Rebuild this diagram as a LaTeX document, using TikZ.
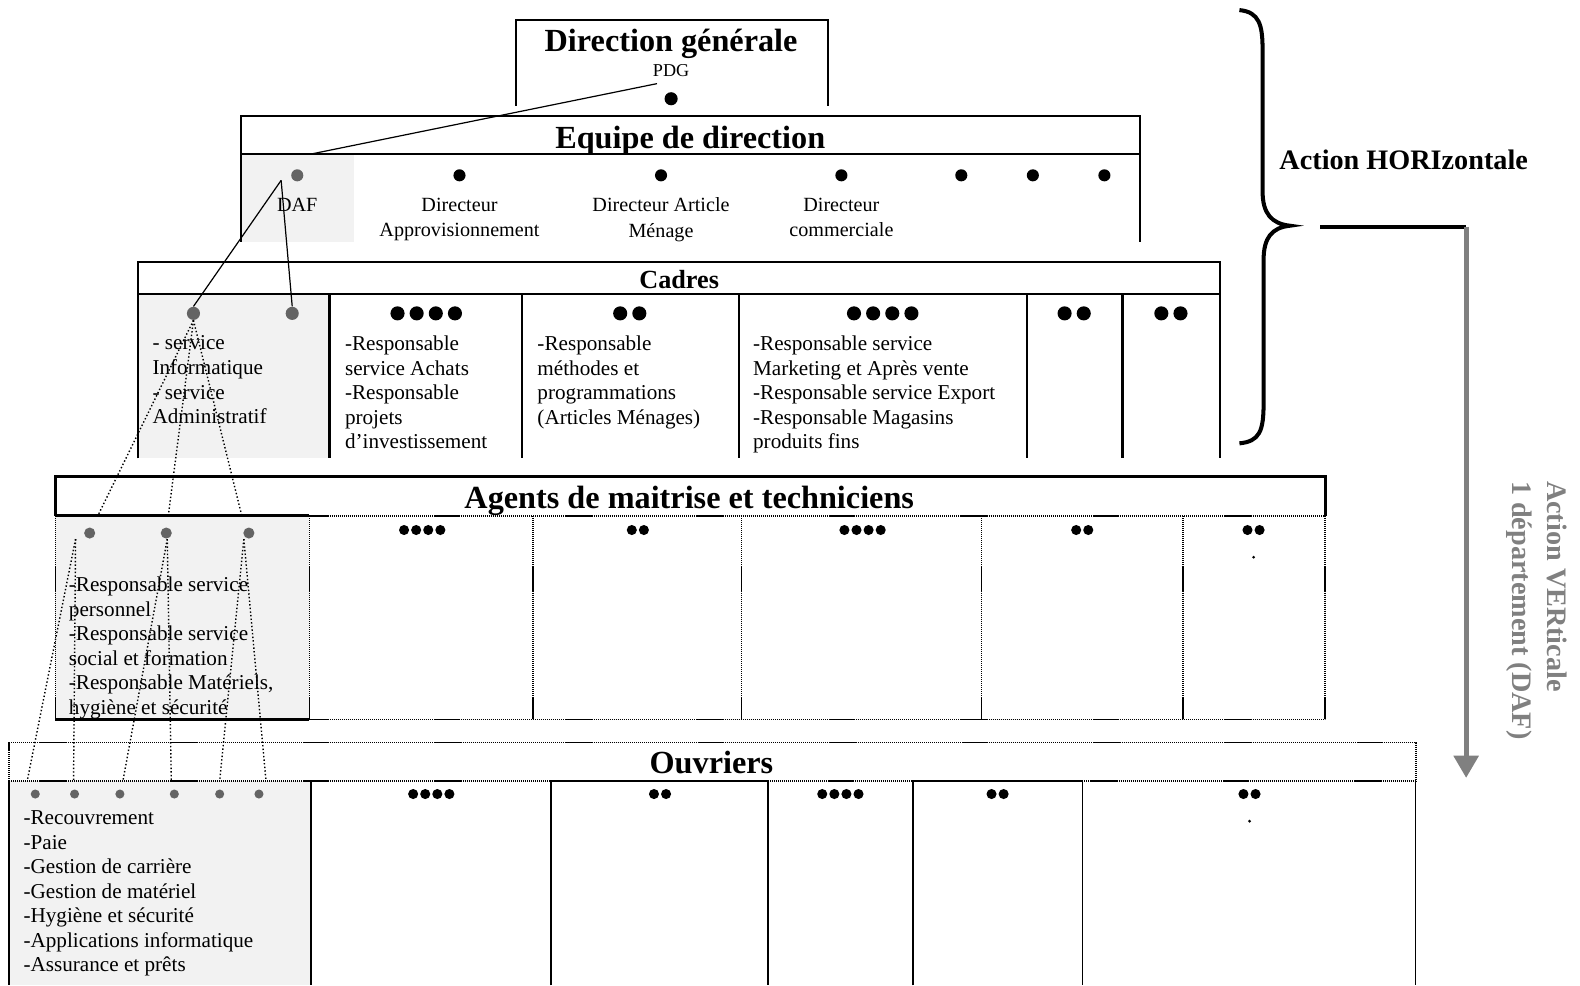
\documentclass[tikz,border=0pt]{standalone}
\usepackage{fontspec}
\setmainfont{Liberation Serif}
\usetikzlibrary{arrows.meta}
\definecolor{cellgrey}{RGB}{242,242,242}
\definecolor{dotgrey}{RGB}{100,100,100}
\definecolor{arrowgrey}{RGB}{128,128,128}
\tikzset{
  leveltitle/.style={font=\bfseries\fontsize{16}{18}\selectfont, inner sep=0pt},
  celltext/.style={font=\fontsize{10.5}{12.2}\selectfont, align=left, anchor=north west, inner sep=0pt},
  dirlabel/.style={font=\fontsize{10}{12.5}\selectfont, align=center, anchor=north, inner sep=0pt},
  blackdot/.style={circle, fill=black, inner sep=0pt, minimum size=#1},
  greydot/.style={circle, fill=dotgrey, inner sep=0pt, minimum size=#1},
  boxline/.style={line width=1.1pt},
  thinline/.style={line width=0.7pt},
  dotframe/.style={line width=0.8pt, dash pattern=on 0.6pt off 0.4pt},
  link/.style={line width=0.6pt},
  dotlink/.style={line width=0.7pt, dash pattern=on 0.7pt off 1.1pt},
}
\begin{document}
\begin{tikzpicture}[x=0.5pt,y=-0.5pt]
        \useasboundingbox (0,0) rectangle (1568,978);
        % shaded DAF column
        \fill[cellgrey] (239,153) rectangle (351,240);
        \fill[cellgrey] (137,292) rectangle (327,455);
        \fill[cellgrey] (55,512) rectangle (307,714);
        \fill[cellgrey] (9,775) rectangle (309,978);
        % Direction generale
        \draw[boxline] (512,105) -- (512,20) -- (822,20) -- (822,105);
        \node[leveltitle] (dg) at (666,44) {Direction générale};
        \node[font=\fontsize{9}{10}\selectfont, inner sep=0pt] (pdg) at (666,70) {PDG};
        \node[blackdot=6.5pt] (pdgdot) at (666,98) {};
        % Equipe de direction
        \draw[boxline] (239,240) -- (239,115) -- (1131,115) -- (1131,240);
        \draw[boxline] (239,153) -- (1131,153);
        \node[leveltitle] (ed) at (685,140) {Equipe de direction};
        \node[greydot=6pt] (daf) at (295,174) {};
        \foreach \x/\nm in {456/dappro,656/dmen,835/dcom,954/dx1,1025/dx2,1096/dx3}
            \node[blackdot=6pt] (\nm) at (\x,174) {};
        \node[dirlabel] (daflab) at (295,196) {DAF};
        \node[dirlabel] (approlab) at (456,196) {Directeur\\Approvisionnement};
        \node[dirlabel] (menlab) at (656,196) {Directeur Article\\Ménage};
        \node[dirlabel] (comlab) at (835,196) {Directeur\\commerciale};
        % Cadres
        \draw[boxline] (137,455) -- (137,260) -- (1211,260) -- (1211,455);
        \draw[boxline] (137,292) -- (1211,292);
        \foreach \x in {327,518,733,1019,1114}
            \draw[boxline] (\x,292) -- (\x,455);
        \node[font=\bfseries\fontsize{13}{15}\selectfont, inner sep=0pt] (cadres) at (674,277) {Cadres};
        \node[greydot=6.5pt] (ca1) at (192,311) {};
        \node[greydot=6.5pt] (ca2) at (290,311) {};
        \foreach \cx/\n/\nm in {423/4/cb,625/2/cc,876/4/cd,1066/2/ce,1162/2/cf}
            {\foreach \i in {1,...,\n}
                \node[blackdot=7pt] (\nm\i) at ({\cx+(\i-(\n+1)/2)*19},311) {};}
        \node[celltext] (catxt1) at (151,333) {- service\\Informatique\\- service\\Administratif};
        \node[celltext] (catxt2) at (342,333) {-Responsable\\service Achats\\-Responsable\\projets\\d’investissement};
        \node[celltext] (catxt3) at (533,333) {-Responsable\\méthodes et\\programmations\\(Articles Ménages)};
        \node[celltext] (catxt4) at (747,333) {-Responsable service\\Marketing et Après vente\\-Responsable service Export\\-Responsable Magasins\\produits fins};
        % Agents de maitrise et techniciens
        \draw[boxline, line width=1.5pt] (55,512) -- (55,473) -- (1315,473) -- (1315,512);
        \draw[boxline, line width=1.5pt] (55,512) -- (307,512);
        \draw[dotframe] (307,512) -- (1315,512);
        \foreach \x in {55,307,529,736,974,1174,1315}
            \draw[dotframe] (\x,512) -- (\x,714);
        \draw[dotframe] (307,714) -- (1315,714);
        \draw[boxline, line width=1.5pt] (55,714) -- (307,714);
        \node[leveltitle] (agents) at (684,497) {Agents de maitrise et techniciens};
        \node[greydot=5.5pt] (ag1) at (89,529) {};
        \node[greydot=5.5pt] (ag2) at (165,529) {};
        \node[greydot=5.5pt] (ag3) at (247,529) {};
        \foreach \cx/\n/\nm in {419/4/ab,633/2/ac,856/4/ad,1074/2/ae,1244/2/af}
            {\foreach \i in {1,...,\n}
                \node[blackdot=5pt] (\nm\i) at ({\cx+(\i-(\n+1)/2)*12},526) {};}
        \node[blackdot=1.5pt] (afpt) at (1244,553) {};
        \node[celltext] (agtxt) at (68,572) {-Responsable service\\personnel\\-Responsable service\\social et formation\\-Responsable Matériels,\\hygiène et sécurité};
        % Ouvriers
        \draw[dotframe] (9,775) -- (9,737) -- (1405,737) -- (1405,775);
        \draw[dotframe] (9,775) -- (547,775);
        \draw[dotframe] (762,775) -- (906,775);
        \draw[dotframe] (1074,775) -- (1405,775);
        \draw[thinline] (9,775) -- (9,978);
        \draw[boxline] (309,775) -- (309,978);
        \draw[boxline] (547,978) -- (547,775) -- (762,775);
        \draw[thinline] (762,775) -- (762,978);
        \draw[boxline] (906,978) -- (906,775) -- (1074,775);
        \draw[thinline] (1074,775) -- (1074,978);
        \draw[thinline] (1405,775) -- (1405,978);
        \node[leveltitle] (ouvriers) at (706,757) {Ouvriers};
        \foreach \x [count=\k] in {35,74,119,173,218,257}
            \node[greydot=4.5pt] (ov\k) at (\x,788) {};
        \foreach \cx/\n/\nm in {428/4/ob,655/2/oc,834/4/od,990/2/oe,1240/2/of}
            {\foreach \i in {1,...,\n}
                \node[blackdot=5pt] (\nm\i) at ({\cx+(\i-(\n+1)/2)*12},788) {};}
        \node[blackdot=1.5pt] (ofpt) at (1240,815) {};
        \node[celltext] (ovtxt) at (23,804) {-Recouvrement\\-Paie\\-Gestion de carrière\\-Gestion de matériel\\-Hygiène et sécurité\\-Applications informatique\\-Assurance et prêts};
        % links of the DAF department
        \coordinate (pdgfoot) at (652,83);
        \coordinate (daftop) at (308,153);
        \coordinate (dafjoin) at (279,179);
        \draw[link] (pdgfoot) -- (daftop);
        \draw[link] (dafjoin) -- (ca1.north);
        \draw[link] (dafjoin) -- (ca2.north);
        \coordinate (ah1) at (97,512);
        \coordinate (ah2) at (167,512);
        \coordinate (ah3) at (240,512);
        \foreach \k in {1,2,3}
            \draw[dotlink] (ca1.south) -- (ah\k);
        \coordinate (as1) at (75,535);
        \coordinate (as2) at (166,535);
        \coordinate (as3) at (242,535);
        \coordinate (oh1) at (27,775);
        \coordinate (oh2) at (73,775);
        \coordinate (oh3) at (122,775);
        \coordinate (oh4) at (170,775);
        \coordinate (oh5) at (218,775);
        \coordinate (oh6) at (264,775);
        \draw[dotlink] (as1) -- (oh1);
        \draw[dotlink] (as1) -- (oh2);
        \draw[dotlink] (as2) -- (oh3);
        \draw[dotlink] (as2) -- (oh4);
        \draw[dotlink] (as3) -- (oh5);
        \draw[dotlink] (as3) -- (oh6);
        % horizontal and vertical action
        \draw[line width=2pt] (1230,10) .. controls (1250,12) and (1253,25) .. (1253,50) -- (1253,190)
            .. controls (1253,212) and (1262,222) .. (1280,224)
            .. controls (1262,226) and (1254,236) .. (1254,258) -- (1254,400)
            .. controls (1254,428) and (1250,438) .. (1230,440);
        \node[font=\bfseries\fontsize{14}{16}\selectfont, inner sep=0pt] (horiz) at (1393,159) {Action HORIzontale};
        \coordinate (hstart) at (1310,225);
        \coordinate (bend) at (1455,225);
        \coordinate (vend) at (1455,772);
        \draw[line width=2pt] (hstart) -- (bend);
        \draw[line width=2.5pt, arrowgrey, -{Triangle[width=12pt,length=11pt]}] (bend) -- (vend);
        \node[rotate=-90, anchor=north west, align=left, text=arrowgrey, inner sep=0pt,
            font=\bfseries\fontsize{14}{17.5}\selectfont] (vert) at (1556,477) {Action VERticale\\1 département (DAF)};
    \end{tikzpicture}
\end{document}
